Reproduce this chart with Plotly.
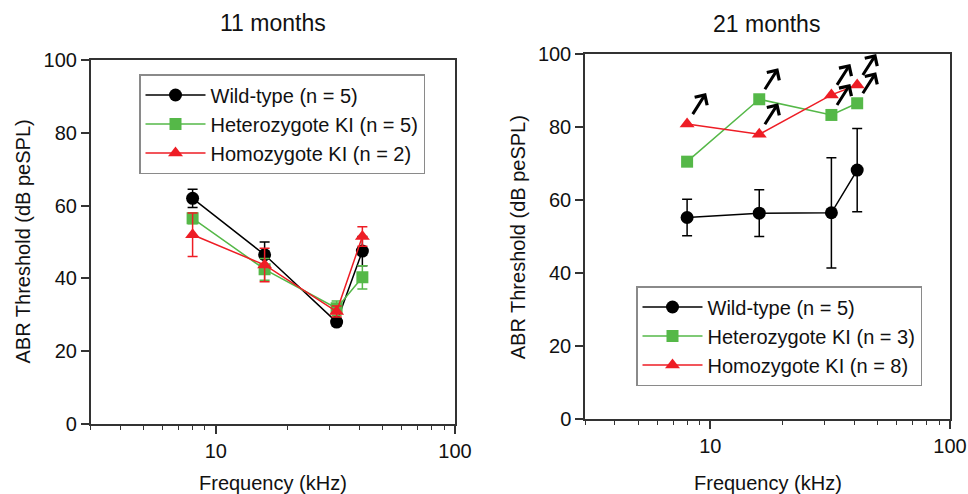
import math
import plotly.graph_objects as go

# ---------------- data ----------------
freq_khz = [8, 16, 32, 41]

# 11 months
wt_11 = [62.0, 46.5, 28.0, 47.5]
wt_11_err = [2.5, 3.5, 1.0, 4.0]
het_11 = [56.5, 42.5, 31.8, 40.3]
het_11_err = [1.5, 3.0, 2.0, 3.2]
hom_11 = [52.0, 43.7, 30.9, 51.5]
hom_11_err = [6.0, 4.6, 1.5, 2.7]

# 21 months
wt_21 = [55.2, 56.4, 56.5, 68.2]
wt_21_err = [5.0, 6.4, 15.1, 11.4]
het_21 = [70.5, 87.6, 83.3, 86.5]
hom_21 = [80.8, 78.0, 88.8, 91.5]
# thresholds above the maximum tested level (drawn with an arrow)
het_21_above = [False, True, True, True]
hom_21_above = [True, True, True, True]

names_11 = ["Wild-type (n = 5)", "Heterozygote KI (n = 5)", "Homozygote KI (n = 2)"]
names_21 = ["Wild-type (n = 5)", "Heterozygote KI (n = 3)", "Homozygote KI (n = 8)"]
panel_titles = ["11 months", "21 months"]
x_title = "Frequency (kHz)"
y_title = "ABR Threshold (dB peSPL)"
x_major = [10, 100]
x_minor = [3, 4, 5, 6, 7, 8, 9, 20, 30, 40, 50, 60, 70, 80, 90]
y_ticks = [0, 20, 40, 60, 80, 100]

# ---------------- style ----------------
FONT = "Liberation Sans, Arial, sans-serif"
BLACK = "#000000"
GREEN = "#55B848"
RED = "#EE1D25"
AX = "#333333"

W, H = 968, 494
fig = go.Figure()

def add_series(x, y, err, name, color, symbol, size, xa, ya, legend):
    fig.add_trace(go.Scatter(
        x=x, y=y, name=name, mode="lines+markers",
        xaxis=xa, yaxis=ya, legend=legend,
        line=dict(color=color, width=1.5),
        marker=dict(color=color, symbol=symbol, size=size, line=dict(width=0)),
        error_y=(dict(type="data", array=err, color=color, thickness=1.5, width=5)
                 if err is not None else dict(visible=False)),
    ))

add_series(freq_khz, wt_11, wt_11_err, names_11[0], BLACK, "circle", 13, "x", "y", "legend")
add_series(freq_khz, het_11, het_11_err, names_11[1], GREEN, "square", 12, "x", "y", "legend")
add_series(freq_khz, hom_11, hom_11_err, names_11[2], RED, "triangle-up", 13, "x", "y", "legend")

add_series(freq_khz, wt_21, wt_21_err, names_21[0], BLACK, "circle", 13, "x2", "y2", "legend2")
add_series(freq_khz, het_21, None, names_21[1], GREEN, "square", 12, "x2", "y2", "legend2")
add_series(freq_khz, hom_21, None, names_21[2], RED, "triangle-up", 13, "x2", "y2", "legend2")

# arrows marking "above" thresholds (annotation x on a log axis is given in log10 units)
for ys, flags in ((het_21, het_21_above), (hom_21, hom_21_above)):
    for xv, yv, f in zip(freq_khz, ys, flags):
        if f:
            fig.add_annotation(
                x=math.log10(xv), y=yv, xref="x2", yref="y2", text="",
                font=dict(size=1), borderpad=0, width=1, height=1,
                showarrow=True, arrowhead=4, arrowsize=0.95, arrowwidth=3,
                arrowcolor=BLACK, ax=-14, ay=22, xshift=19, yshift=31,
                standoff=0, startstandoff=0,
            )

# axes
def xaxis(domain, anchor):
    return dict(
        type="log", range=[0.4771, 2], domain=domain, anchor=anchor,
        tickmode="array", tickvals=x_major, ticks="outside", ticklen=8, tickwidth=1.5,
        tickcolor=AX, showline=True, linecolor=AX, linewidth=1.5, mirror=True,
        showgrid=False, zeroline=False,
        tickfont=dict(family=FONT, size=20, color="#111"),
        minor=dict(tickmode="array", tickvals=x_minor, ticks="outside", ticklen=4,
                   tickwidth=1.2, tickcolor=AX, showgrid=False),
        automargin=False,
    )

def yaxis(domain, anchor):
    return dict(
        range=[0, 100], domain=domain, anchor=anchor,
        tickmode="array", tickvals=y_ticks, ticks="outside", ticklen=8, tickwidth=1.5,
        tickcolor=AX, showline=True, linecolor=AX, linewidth=1.5, mirror=True,
        showgrid=False, zeroline=False,
        tickfont=dict(family=FONT, size=20, color="#111"),
        automargin=False,
    )

left_x = [90.7 / W, 455 / W]
right_x = [585 / W, 950 / W]
left_y = [70 / H, 434 / H]
right_y = [75 / H, 440 / H]

legend_style = dict(
    bgcolor="white", bordercolor="#8a8a8a", borderwidth=1.5,
    font=dict(family=FONT, size=20, color="#111"),
    xanchor="left", yanchor="top", itemwidth=60, traceorder="normal",
)

fig.update_layout(
    width=W, height=H, margin=dict(l=0, r=0, t=0, b=0),
    paper_bgcolor="white", plot_bgcolor="white",
    font=dict(family=FONT, size=20, color="#111"),
    xaxis=xaxis(left_x, "y"), yaxis=yaxis(left_y, "x"),
    xaxis2=xaxis(right_x, "y2"), yaxis2=yaxis(right_y, "x2"),
    legend=dict(x=139 / W, y=1 - 74 / H, **legend_style),
    legend2=dict(x=636 / W, y=1 - 286 / H, **legend_style),
    showlegend=True,
)

# titles
for cx, cy, t in ((273.3, 23, panel_titles[0]), (766.7, 24, panel_titles[1])):
    fig.add_annotation(x=cx / W, y=1 - cy / H, xref="paper", yref="paper", text=t,
                       showarrow=False, xanchor="center", yanchor="middle",
                       font=dict(family=FONT, size=23, color="#111"))
for cx in (273.0, 767.5):
    fig.add_annotation(x=cx / W, y=1 - 483 / H, xref="paper", yref="paper", text=x_title,
                       showarrow=False, xanchor="center", yanchor="middle",
                       font=dict(family=FONT, size=20, color="#111"))
for cx, cy in ((22.5, 242), (518.3, 237)):
    fig.add_annotation(x=cx / W, y=1 - cy / H, xref="paper", yref="paper", text=y_title,
                       showarrow=False, textangle=-90, xanchor="center", yanchor="middle",
                       font=dict(family=FONT, size=20, color="#111"))

fig.write_html("out.html", config={"displayModeBar": False})

# remove the browser's default page margin so the figure fills the window
with open("out.html", "r", encoding="utf-8") as fh:
    html = fh.read()
html = html.replace("<head>", "<head><style>html,body{margin:0;padding:0;overflow:hidden;}</style>", 1)
with open("out.html", "w", encoding="utf-8") as fh:
    fh.write(html)
